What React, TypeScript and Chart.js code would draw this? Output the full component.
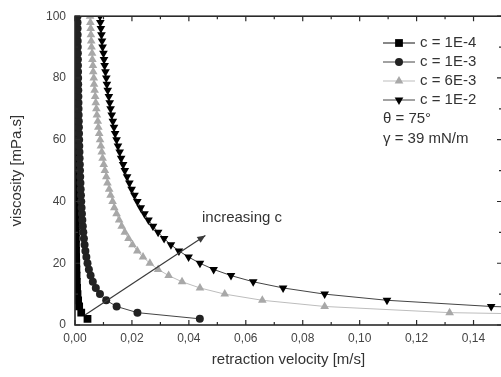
import React, { useEffect, useRef } from 'react';
import { Chart, registerables } from 'chart.js';

Chart.register(...registerables);

// ---- data ----
const viscosity = [
  2, 4, 6, 8, 10, 12, 14, 16, 18, 20, 22, 24, 26, 28, 30, 32, 34, 36, 38, 40,
  42, 44, 46, 48, 50, 52, 54, 56, 58, 60, 62, 64, 66, 68, 70, 72, 74, 76, 78, 80,
  82, 84, 86, 88, 90, 92, 94, 96, 98, 100,
];

const velocityC1E4 = [
  0.00439, 0.00219, 0.00146, 0.0011, 0.00088, 0.00073, 0.00063, 0.00055, 0.00049, 0.00044,
  0.0004, 0.00037, 0.00034, 0.00031, 0.00029, 0.00027, 0.00026, 0.00024, 0.00023, 0.00022,
  0.00021, 0.0002, 0.00019, 0.00018, 0.00018, 0.00017, 0.00016, 0.00016, 0.00015, 0.00015,
  0.00014, 0.00014, 0.00013, 0.00013, 0.00013, 0.00012, 0.00012, 0.00012, 0.00011, 0.00011,
  0.00011, 0.0001, 0.0001, 0.0001, 0.0001, 0.0001, 0.00009, 0.00009, 0.00009, 0.00009,
];

const velocityC1E3 = [
  0.04385, 0.02193, 0.01462, 0.01096, 0.00877, 0.00731, 0.00626, 0.00548, 0.00487, 0.00439,
  0.00399, 0.00365, 0.00337, 0.00313, 0.00292, 0.00274, 0.00258, 0.00244, 0.00231, 0.00219,
  0.00209, 0.00199, 0.00191, 0.00183, 0.00175, 0.00169, 0.00162, 0.00157, 0.00151, 0.00146,
  0.00141, 0.00137, 0.00133, 0.00129, 0.00125, 0.00122, 0.00119, 0.00115, 0.00112, 0.0011,
  0.00107, 0.00104, 0.00102, 0.001, 0.00097, 0.00095, 0.00093, 0.00091, 0.00089, 0.00088,
];

const velocityC6E3 = [
  0.2631, 0.1316, 0.0877, 0.0658, 0.0526, 0.0439, 0.0376, 0.0329, 0.0292, 0.0263,
  0.0239, 0.0219, 0.0202, 0.0188, 0.0175, 0.0164, 0.0155, 0.0146, 0.0138, 0.0132,
  0.0125, 0.012, 0.0114, 0.011, 0.0105, 0.0101, 0.0097, 0.0094, 0.0091, 0.0088,
  0.0085, 0.0082, 0.008, 0.0077, 0.0075, 0.0073, 0.0071, 0.0069, 0.0067, 0.0066,
  0.0064, 0.0063, 0.0061, 0.006, 0.0058, 0.0057, 0.0056, 0.0055, 0.0054, 0.0053,
];

const velocityC1E2 = [
  0.4385, 0.2193, 0.1462, 0.1096, 0.0877, 0.0731, 0.0626, 0.0548, 0.0487, 0.0439,
  0.0399, 0.0365, 0.0337, 0.0313, 0.0292, 0.0274, 0.0258, 0.0244, 0.0231, 0.0219,
  0.0209, 0.0199, 0.0191, 0.0183, 0.0175, 0.0169, 0.0162, 0.0157, 0.0151, 0.0146,
  0.0141, 0.0137, 0.0133, 0.0129, 0.0125, 0.0122, 0.0119, 0.0115, 0.0112, 0.011,
  0.0107, 0.0104, 0.0102, 0.01, 0.0097, 0.0095, 0.0093, 0.0091, 0.0089, 0.0088,
];

const seriesLabels = ['c = 1E-4', 'c = 1E-3', 'c = 6E-3', 'c = 1E-2'];
const extraLegendLines = ['\u03b8 = 75\u00b0', '\u03b3 = 39 mN/m'];
const xAxisTitle = 'retraction velocity [m/s]';
const yAxisTitle = 'viscosity [mPa.s]';
const annotationText = 'increasing c';
const arrowStart = { x: 0.0035, y: 3.2 };
const arrowEnd = { x: 0.0458, y: 29 };
const annotationAnchor = { x: 0.0446, y: 34.6 };

const FONT = "'Liberation Sans', Arial, sans-serif";

type MarkerDef = { style: string; radius: number; rotation: number; color: string; line: string };
const markers: MarkerDef[] = [
  { style: 'rect', radius: 5.5, rotation: 0, color: '#000000', line: '#111111' },
  { style: 'circle', radius: 4, rotation: 0, color: '#222222', line: '#444444' },
  { style: 'triangle', radius: 5, rotation: 0, color: '#a8a8a8', line: '#bdbdbd' },
  { style: 'triangle', radius: 5, rotation: 180, color: '#000000', line: '#444444' },
];

function drawMarker(ctx: CanvasRenderingContext2D, m: MarkerDef, x: number, y: number) {
  ctx.save();
  ctx.fillStyle = m.color;
  ctx.beginPath();
  if (m.style === 'rect') {
    const s = m.radius * Math.SQRT1_2;
    ctx.rect(x - s, y - s, 2 * s, 2 * s);
  } else if (m.style === 'circle') {
    ctx.arc(x, y, m.radius, 0, Math.PI * 2);
  } else {
    const r = m.radius;
    const rot = (m.rotation * Math.PI) / 180;
    for (let k = 0; k < 3; k++) {
      const a = rot - Math.PI / 2 + (k * 2 * Math.PI) / 3;
      const px = x + r * Math.cos(a);
      const py = y + r * Math.sin(a);
      if (k === 0) ctx.moveTo(px, py);
      else ctx.lineTo(px, py);
    }
    ctx.closePath();
  }
  ctx.fill();
  ctx.restore();
}

const framePlugin = {
  id: 'frameAndDecor',
  afterDatasetsDraw(chart: any) {
    const { ctx, chartArea } = chart;
    const xs = chart.scales.x;
    const ys = chart.scales.y;
    const { left, right, top, bottom } = chartArea;
    ctx.save();
    // frame
    ctx.strokeStyle = '#2a2a2a';
    ctx.lineWidth = 1.6;
    ctx.strokeRect(left, top, right - left, bottom - top);
    // ticks (inside)
    ctx.lineWidth = 1.2;
    ctx.beginPath();
    for (let i = 0; i <= 15; i++) {
      const v = i * 0.01;
      const px = xs.getPixelForValue(v);
      if (px > right + 0.5) continue;
      const len = i % 2 === 0 ? 5 : 3;
      ctx.moveTo(px, bottom);
      ctx.lineTo(px, bottom - len);
      ctx.moveTo(px, top);
      ctx.lineTo(px, top + len);
    }
    for (let i = 0; i <= 10; i++) {
      const v = i * 10;
      const py = ys.getPixelForValue(v);
      const len = i % 2 === 0 ? 5 : 3;
      ctx.moveTo(left, py);
      ctx.lineTo(left + len, py);
      ctx.moveTo(right, py);
      ctx.lineTo(right - len, py);
    }
    ctx.stroke();

    // arrow annotation
    const x1 = xs.getPixelForValue(arrowStart.x);
    const y1 = ys.getPixelForValue(arrowStart.y);
    const x2 = xs.getPixelForValue(arrowEnd.x);
    const y2 = ys.getPixelForValue(arrowEnd.y);
    ctx.strokeStyle = '#3a3a3a';
    ctx.fillStyle = '#3a3a3a';
    ctx.lineWidth = 1.2;
    ctx.beginPath();
    ctx.moveTo(x1, y1);
    ctx.lineTo(x2, y2);
    ctx.stroke();
    const ang = Math.atan2(y2 - y1, x2 - x1);
    const hl = 8;
    const hw = 3.5;
    ctx.beginPath();
    ctx.moveTo(x2, y2);
    ctx.lineTo(x2 - hl * Math.cos(ang) + hw * Math.sin(ang), y2 - hl * Math.sin(ang) - hw * Math.cos(ang));
    ctx.lineTo(x2 - hl * Math.cos(ang) - hw * Math.sin(ang), y2 - hl * Math.sin(ang) + hw * Math.cos(ang));
    ctx.closePath();
    ctx.fill();

    ctx.font = `15px ${FONT}`;
    ctx.fillStyle = '#333333';
    ctx.textBaseline = 'middle';
    ctx.textAlign = 'left';
    ctx.fillText(annotationText, xs.getPixelForValue(annotationAnchor.x), ys.getPixelForValue(annotationAnchor.y));

    // legend
    const rowY = [43, 62, 81, 100, 119, 139];
    const lineX0 = 383;
    const lineX1 = 415;
    const textX = 420;
    seriesLabels.forEach((label, i) => {
      const m = markers[i];
      ctx.strokeStyle = m.line;
      ctx.lineWidth = 1;
      ctx.beginPath();
      ctx.moveTo(lineX0, rowY[i]);
      ctx.lineTo(lineX1, rowY[i]);
      ctx.stroke();
      drawMarker(ctx, m, (lineX0 + lineX1) / 2, rowY[i]);
      ctx.fillStyle = '#333333';
      ctx.fillText(label, textX, rowY[i]);
    });
    extraLegendLines.forEach((t, j) => {
      ctx.fillStyle = '#333333';
      ctx.fillText(t, lineX0, rowY[4 + j]);
    });
    ctx.restore();
  },
};

export default function App() {
  const canvasRef = useRef<HTMLCanvasElement | null>(null);

  useEffect(() => {
    const canvas = canvasRef.current;
    if (!canvas) return;
    const seriesX = [velocityC1E4, velocityC1E3, velocityC6E3, velocityC1E2];
    const datasets = seriesX.map((xs, i) => {
      const m = markers[i];
      return {
        label: seriesLabels[i],
        data: viscosity.map((y, k) => ({ x: xs[k], y })),
        showLine: true,
        borderColor: m.line,
        borderWidth: 1,
        backgroundColor: m.color,
        pointBackgroundColor: m.color,
        pointBorderColor: m.color,
        pointBorderWidth: 0,
        pointStyle: m.style,
        pointRadius: m.radius,
        pointRotation: m.rotation,
        pointHoverRadius: m.radius,
        tension: 0,
        clip: 0,
        order: 3 - i,
      };
    });

    const chart = new Chart(canvas, {
      type: 'scatter',
      data: { datasets } as any,
      options: {
        animation: false,
        responsive: false,
        devicePixelRatio: 1,
        layout: { padding: { left: 0, right: 18, top: 10, bottom: 0 } },
        plugins: { legend: { display: false }, tooltip: { enabled: false } },
        scales: {
          x: {
            type: 'linear',
            min: 0,
            max: 0.15,
            grid: { display: false, drawTicks: false },
            border: { display: false },
            ticks: {
              stepSize: 0.02,
              includeBounds: false,
              padding: 6,
              color: '#444444',
              font: { family: FONT, size: 12 },
              callback: (v: any) => Number(v).toFixed(2).replace('.', ','),
            },
            title: {
              display: true,
              text: xAxisTitle,
              color: '#333333',
              font: { family: FONT, size: 15 },
              padding: { top: 0, bottom: 8 },
            },
            afterFit: (scale: any) => {
              scale.height = 52;
            },
          },
          y: {
            type: 'linear',
            min: 0,
            max: 100,
            grid: { display: false, drawTicks: false },
            border: { display: false },
            ticks: {
              stepSize: 20,
              padding: 9,
              color: '#444444',
              font: { family: FONT, size: 12 },
            },
            title: {
              display: true,
              text: yAxisTitle,
              color: '#333333',
              font: { family: FONT, size: 15 },
              padding: { top: 8, bottom: 0 },
            },
            afterFit: (scale: any) => {
              scale.width = 75;
            },
          },
        },
      } as any,
      plugins: [framePlugin],
    });
    return () => chart.destroy();
  }, []);

  return (
    <div
      style={{
        position: 'fixed',
        left: 0,
        top: 0,
        width: 501,
        height: 377,
        overflow: 'hidden',
        background: '#ffffff',
      }}
    >
      <canvas ref={canvasRef} width={520} height={377} style={{ display: 'block' }} />
    </div>
  );
}
